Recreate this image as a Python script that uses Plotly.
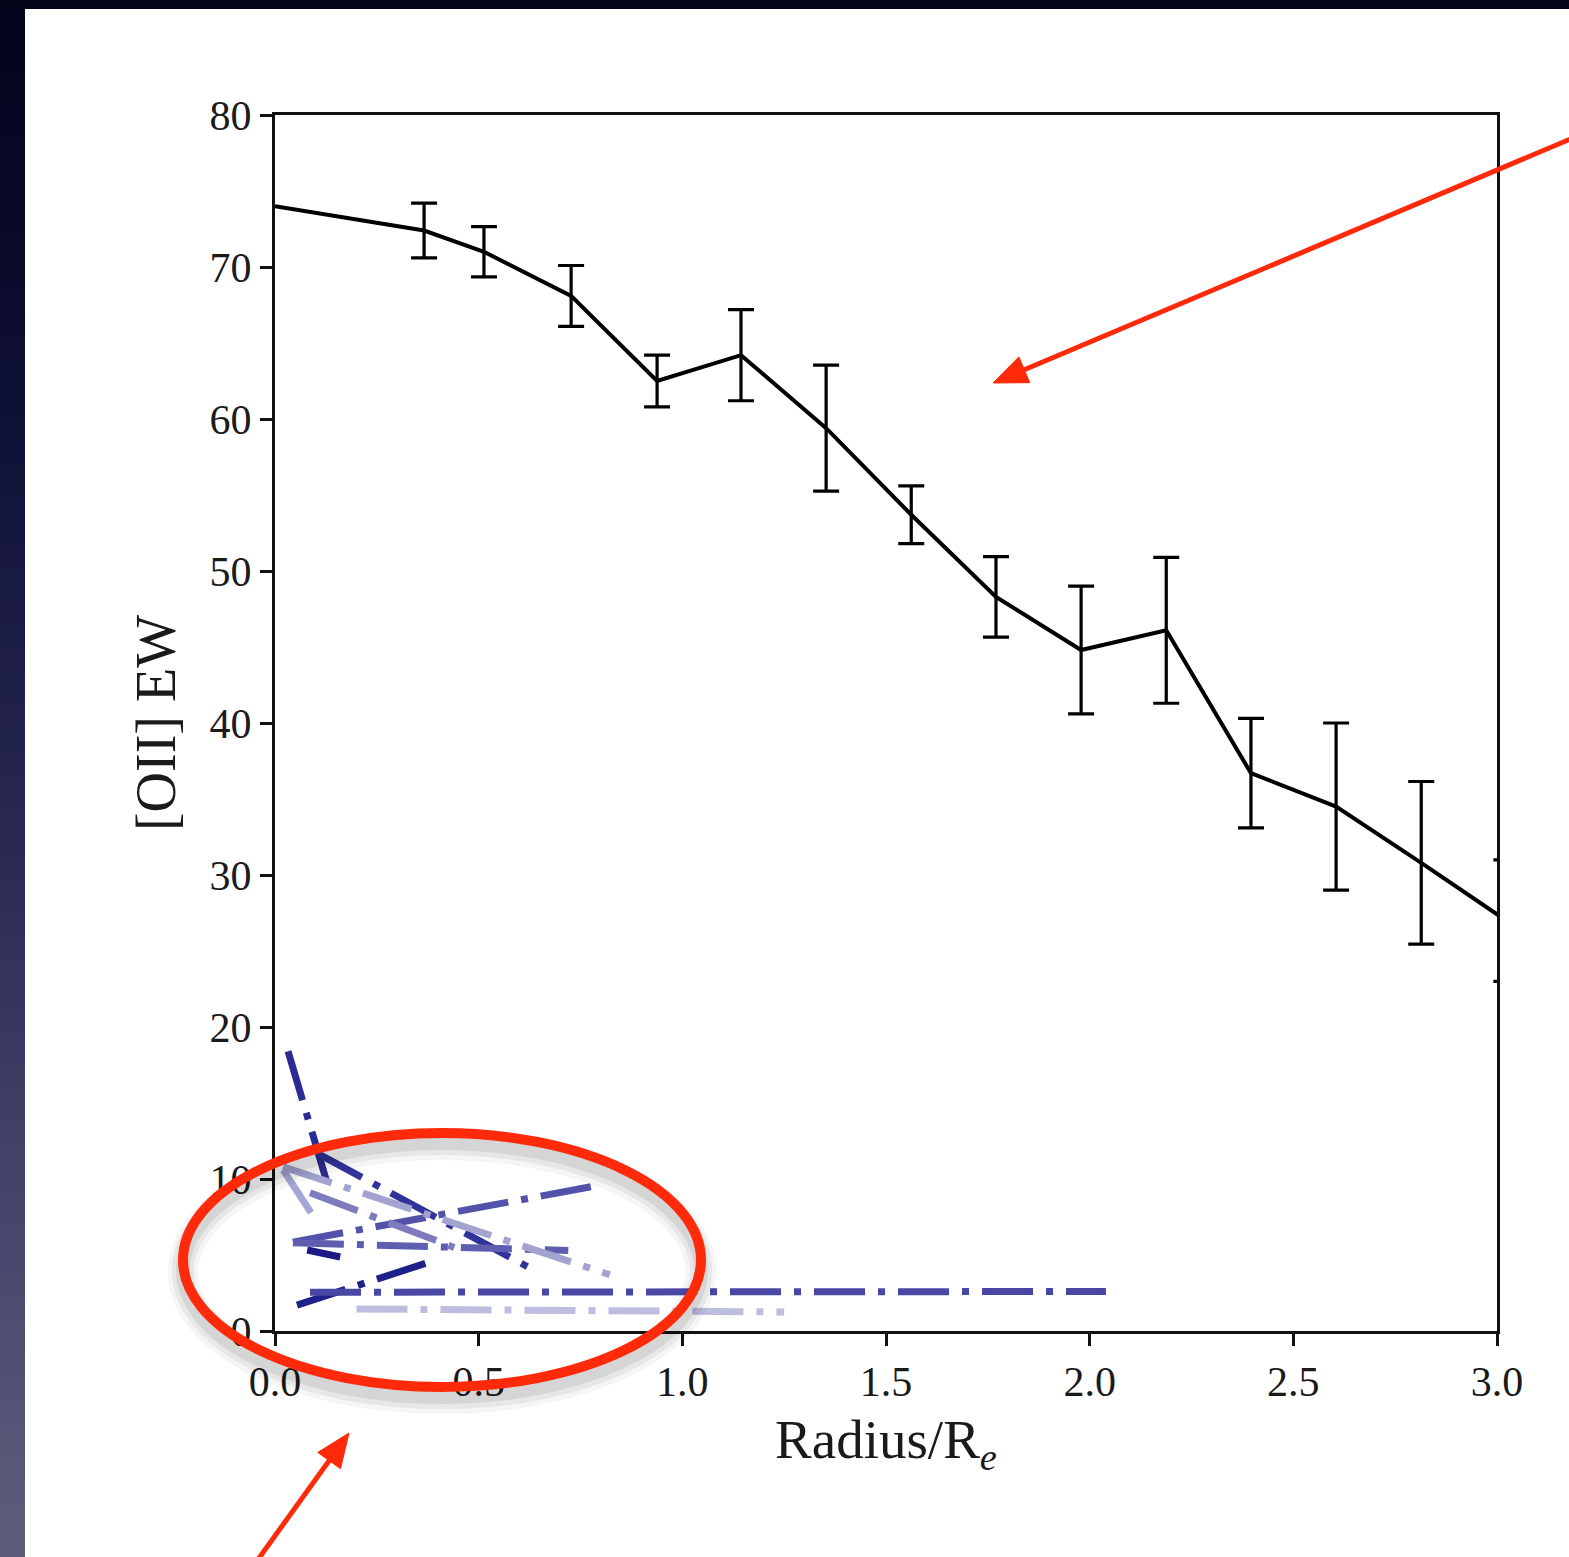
import math
import plotly.graph_objects as go

# ---------------- data ----------------
radius = [0.0, 0.366, 0.513, 0.727, 0.938, 1.144, 1.353, 1.562, 1.770, 1.979,
          2.188, 2.396, 2.605, 2.814, 3.023]
oii_ew = [74.0, 72.4, 71.0, 68.1, 62.5, 64.2, 59.4, 53.7, 48.3, 44.8,
          46.1, 36.7, 34.5, 30.8, 27.0]
oii_err = [0.0, 1.8, 1.65, 2.0, 1.7, 3.0, 4.15, 1.9, 2.65, 4.2,
           4.8, 3.6, 5.5, 5.35, 4.0]

# individual (blue) profiles: x, y lists
blue_x = [
    [0.032, 0.135],
    [0.103, 0.643],
    [0.044, 0.778],
    [0.044, 0.720],
    [0.079, 0.160],
    [0.054, 0.398],
    [0.086, 2.040],
    [0.200, 1.250],
    [0.020, 0.093],
    [0.020, 0.822],
    [0.086, 0.440],
]
blue_y = [
    [18.4, 9.1],
    [11.7, 3.9],
    [5.85, 9.5],
    [5.8, 5.3],
    [5.33, 4.87],
    [1.7, 4.7],
    [2.55, 2.6],
    [1.45, 1.25],
    [10.6, 7.6],
    [10.8, 3.7],
    [9.1, 5.5],
]
blue_colors = ["#2b2b94", "#32329d", "#5252ab", "#5e5eb1", "#1a1a85", "#20208b",
               "#4848a4", "#bdbddf", "#a6a6d4", "#a3a3d2", "#7c7cbe"]

x_ticks = [0.0, 0.5, 1.0, 1.5, 2.0, 2.5, 3.0]
y_ticks = [0, 10, 20, 30, 40, 50, 60, 70, 80]

# ---------------- geometry helpers (pixel -> paper) ----------------
W, H = 1569, 1557
L, R, T, B = 275, 1497, 115, 1331


def px(xp):
    return (xp - L) / (R - L)


def py(yp):
    return (B - yp) / (B - T)


fig = go.Figure()

for xs, ys, c in zip(blue_x, blue_y, blue_colors):
    fig.add_trace(go.Scatter(
        x=xs, y=ys, mode="lines",
        line=dict(color=c, width=7, dash="51px,13px,7px,13px"),
        showlegend=False, hoverinfo="skip"))

# mean profile line
fig.add_trace(go.Scatter(
    x=radius, y=oii_ew, mode="lines",
    line=dict(color="black", width=4),
    showlegend=False))
# error bars (first point has none)
fig.add_trace(go.Scatter(
    x=radius[1:], y=oii_ew[1:], mode="markers",
    marker=dict(size=1, color="rgba(0,0,0,0)"),
    error_y=dict(type="data", array=oii_err[1:], visible=True,
                 color="black", thickness=3.2, width=13),
    showlegend=False, hoverinfo="skip"))

serif = "Liberation Serif, Times New Roman, serif"

shapes = []
# dark slide frame (gradient on the left, dark strip on top)
stops = [(0, (3, 4, 26)), (400, (14, 15, 53)), (800, (38, 38, 80)),
         (1200, (69, 69, 108)), (1557, (94, 94, 124))]


def col_at(yv):
    for (y0, c0), (y1, c1) in zip(stops[:-1], stops[1:]):
        if y0 <= yv <= y1:
            t = (yv - y0) / (y1 - y0)
            return "rgb(%d,%d,%d)" % tuple(round(a + (b - a) * t) for a, b in zip(c0, c1))
    return "rgb(94,94,124)"


nb = 60
for i in range(nb):
    y0 = i * H / nb
    y1 = (i + 1) * H / nb + 1
    shapes.append(dict(type="rect", xref="paper", yref="paper",
                       x0=px(0), x1=px(25), y0=py(y1), y1=py(y0),
                       fillcolor=col_at((y0 + y1) / 2), line=dict(width=0),
                       layer="above"))
shapes.append(dict(type="rect", xref="paper", yref="paper",
                   x0=px(0), x1=px(W), y0=py(9), y1=py(0),
                   fillcolor="#03041a", line=dict(width=0), layer="above"))

# ellipse drop shadow
for w, op, off in [(30, 0.035, 12), (22, 0.05, 11), (14, 0.07, 10)]:
    shapes.append(dict(type="circle", xref="paper", yref="paper",
                       x0=px(183), x1=px(701), y0=py(1387 + off), y1=py(1133 + off),
                       line=dict(color="black", width=w), opacity=op, layer="above"))
# red ellipse
shapes.append(dict(type="circle", xref="paper", yref="paper",
                   x0=px(183), x1=px(701), y0=py(1387), y1=py(1133),
                   line=dict(color="#ff2a0a", width=10), layer="above"))


def arrow(tip, tail, color="#ff2a0a", width=5, head_len=34, head_half=14):
    dx, dy = tail[0] - tip[0], tail[1] - tip[1]
    n = math.hypot(dx, dy)
    ux, uy = dx / n, dy / n
    bx, by = tip[0] + head_len * ux, tip[1] + head_len * uy
    nx, ny = -uy, ux
    c1 = (bx + head_half * nx, by + head_half * ny)
    c2 = (bx - head_half * nx, by - head_half * ny)
    out = [dict(type="line", xref="paper", yref="paper",
                x0=px(bx - 2 * ux), y0=py(by - 2 * uy), x1=px(tail[0]), y1=py(tail[1]),
                line=dict(color=color, width=width), layer="above"),
           dict(type="path", xref="paper", yref="paper",
                path="M%f,%f L%f,%f L%f,%f Z" % (px(tip[0]), py(tip[1]),
                                                 px(c1[0]), py(c1[1]),
                                                 px(c2[0]), py(c2[1])),
                fillcolor=color, line=dict(color=color, width=1), layer="above")]
    return out


shapes += arrow((993, 383), (1580, 135))
shapes += arrow((349, 1433), (254, 1565))

fig.update_layout(
    width=W, height=H,
    margin=dict(l=L, r=W - R, t=T, b=H - B, pad=0),
    paper_bgcolor="white", plot_bgcolor="white",
    font=dict(family=serif, color="#1a1a1a", size=42),
    shapes=shapes,
    showlegend=False,
    xaxis=dict(range=[0, 3], tickvals=x_ticks,
               ticktext=["%.1f" % v for v in x_ticks],
               showgrid=False, zeroline=False,
               showline=True, linewidth=3, linecolor="#111", mirror=True,
               ticks="outside", ticklen=12, tickwidth=2.5, tickcolor="#111",
               tickfont=dict(size=42, family=serif),
               title=dict(text="Radius/R<sub><i>e</i></sub>",
                          font=dict(size=55, family=serif), standoff=16),
               automargin=False),
    yaxis=dict(range=[0, 80], tickvals=y_ticks,
               showgrid=False, zeroline=False,
               showline=True, linewidth=3, linecolor="#111", mirror=True,
               ticks="outside", ticklen=12, tickwidth=2.5, tickcolor="#111",
               tickfont=dict(size=42, family=serif),
               title=dict(text="[OII] EW", font=dict(size=56, family=serif),
                          standoff=16),
               automargin=False),
)

fig.write_html("out.html")
